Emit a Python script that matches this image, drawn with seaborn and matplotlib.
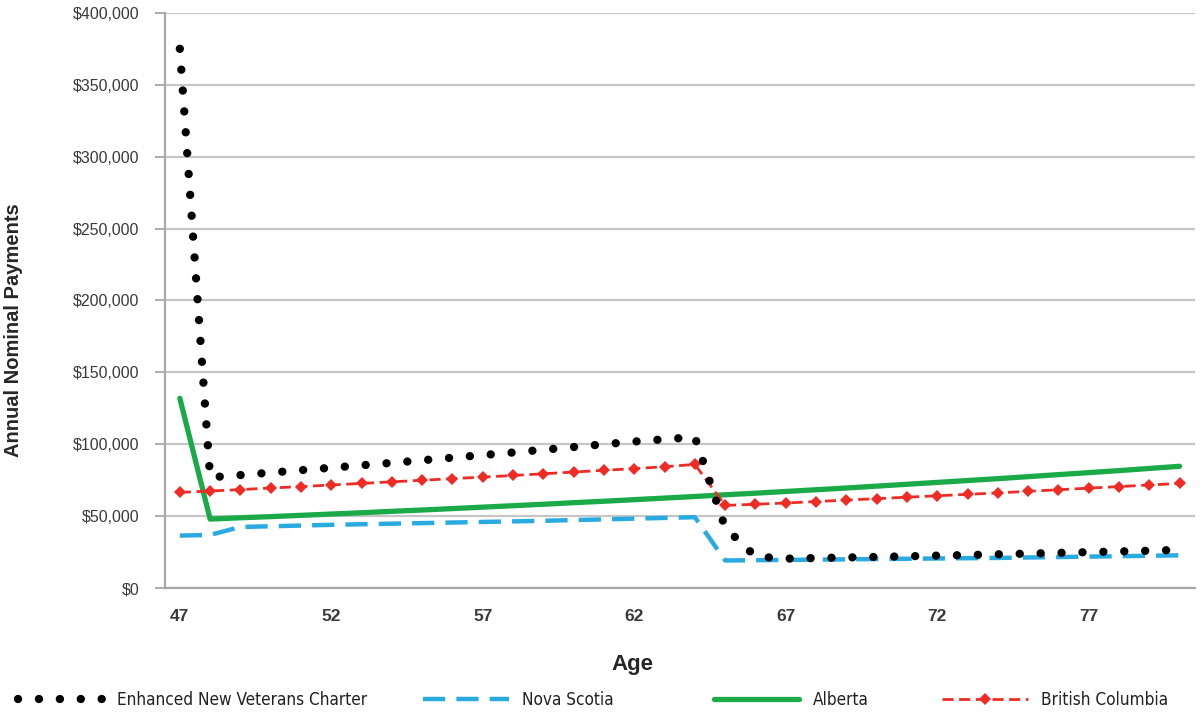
import numpy as np
import pandas as pd
import matplotlib.pyplot as plt
import seaborn as sns
from matplotlib.ticker import FuncFormatter, MultipleLocator

ages = list(range(47, 81))

# annual payments, in thousands of dollars
envc = [375.0, 77.0, 78.6, 80.3, 82.0, 83.7, 85.4, 87.1, 88.9, 90.7, 92.5, 94.3,
        96.2, 98.1, 100.0, 101.9, 103.5, 105.0, 42.0, 22.0, 20.5, 20.9, 21.3, 21.7,
        22.1, 22.6, 23.0, 23.5, 24.0, 24.5, 25.0, 25.5, 26.0, 26.6]
nova_scotia = [36.5, 37.0, 42.5, 43.0, 43.5, 44.0, 44.4, 44.8, 45.2, 45.6, 46.0, 46.4,
               46.8, 47.3, 47.8, 48.3, 48.8, 49.3, 19.2, 19.4, 19.6, 19.8, 20.0, 20.2,
               20.4, 20.6, 20.8, 21.0, 21.3, 21.6, 21.9, 22.2, 22.5, 22.8]
alberta = [132.0, 48.0, 48.9, 49.7, 50.6, 51.5, 52.4, 53.4, 54.3, 55.3, 56.3, 57.3,
           58.3, 59.4, 60.4, 61.5, 62.6, 63.7, 64.9, 66.0, 67.2, 68.4, 69.6, 70.9,
           72.2, 73.5, 74.8, 76.1, 77.5, 78.9, 80.3, 81.7, 83.2, 84.7]
british_columbia = [66.5, 67.5, 68.5, 69.6, 70.6, 71.7, 72.8, 73.9, 75.0, 76.1, 77.2, 78.3,
                    79.5, 80.7, 81.9, 83.1, 84.4, 86.0, 57.5, 58.3, 59.2, 60.2, 61.2, 62.2,
                    63.2, 64.2, 65.2, 66.2, 67.3, 68.4, 69.5, 70.6, 71.7, 72.8]

xtick_labels = [47, 52, 57, 62, 67, 72, 77]

df = pd.DataFrame({
    "Age": ages,
    "Enhanced New Veterans Charter": np.array(envc) * 1000,
    "Nova Scotia": np.array(nova_scotia) * 1000,
    "Alberta": np.array(alberta) * 1000,
    "British Columbia": np.array(british_columbia) * 1000,
})

sns.set_style("white")
plt.rcParams["font.family"] = ["Liberation Sans", "DejaVu Sans"]

fig = plt.figure(figsize=(12.02, 7.12), dpi=100)
ax = fig.add_axes([0.137, 0.174, 0.857, 0.808])

sns.lineplot(data=df, x="Age", y="Enhanced New Veterans Charter", ax=ax,
             color="black", linewidth=6.0, linestyle=(0, (0.01, 2.5)),
             dash_capstyle="round", label="Enhanced New Veterans Charter", zorder=3)
sns.lineplot(data=df, x="Age", y="Nova Scotia", ax=ax,
             color="#29abe2", linewidth=3.2, linestyle=(0, (5, 2.5)),
             label="Nova Scotia", zorder=2)
sns.lineplot(data=df, x="Age", y="Alberta", ax=ax,
             color="#1aaa48", linewidth=3.8, label="Alberta", zorder=2)
sns.lineplot(data=df, x="Age", y="British Columbia", ax=ax,
             color="#ee2b24", linewidth=2.0, linestyle=(0, (4, 2)),
             marker="D", markersize=6.2, markeredgewidth=0,
             label="British Columbia", zorder=2)

ax.set_xlim(46.5, 80.5)
ax.set_ylim(0, 400000)
ax.yaxis.set_major_locator(MultipleLocator(50000))
ax.yaxis.set_major_formatter(FuncFormatter(lambda v, p: "${:,.0f}".format(v)))
ax.set_xticks(xtick_labels)
ax.set_xticklabels([str(t) for t in xtick_labels], fontweight="bold")
ax.set_xticks([t - 0.5 for t in xtick_labels], minor=True)
ax.tick_params(axis="x", which="major", length=0, pad=15, labelsize=12.5,
               labelcolor="#3a3a3a")
ax.tick_params(axis="x", which="minor", length=6, color="#a0a0a0", width=1.2)
ax.tick_params(axis="y", length=7, color="#a0a0a0", width=1.2, labelsize=11.5,
               labelcolor="#3a3a3a", pad=11, left=True)

ax.grid(axis="y", color="#c6c6c6", linewidth=1.6)
ax.set_axisbelow(True)
for side in ["top", "right"]:
    ax.spines[side].set_visible(False)
for side in ["left", "bottom"]:
    ax.spines[side].set_color("#a8a8a8")
    ax.spines[side].set_linewidth(1.6)

ax.set_ylabel("Annual Nominal Payments", fontsize=14.5, fontweight="bold")
ax.yaxis.set_label_coords(-0.1375, 0.449)
ax.set_xlabel("Age", fontsize=16, fontweight="bold")
ax.xaxis.set_label_coords(0.454, -0.115)

# one legend entry per slot, spread along the bottom like the original
handles, labels = ax.get_legend_handles_labels()
ax.get_legend().remove()
slots = [0.015, 0.352, 0.594, 0.784]
for h, lab, x0 in zip(handles, labels, slots):
    leg = fig.legend([h], [lab], loc="center left", bbox_to_anchor=(x0, 0.017),
                     frameon=False, handlelength=5.0, handletextpad=0.8,
                     borderpad=0, borderaxespad=0, numpoints=1,
                     prop={"family": "DejaVu Sans", "size": 12.3,
                           "stretch": "condensed"})
    for t in leg.get_texts():
        t.set_color("#222222")

fig.savefig("out.png", dpi=100)
